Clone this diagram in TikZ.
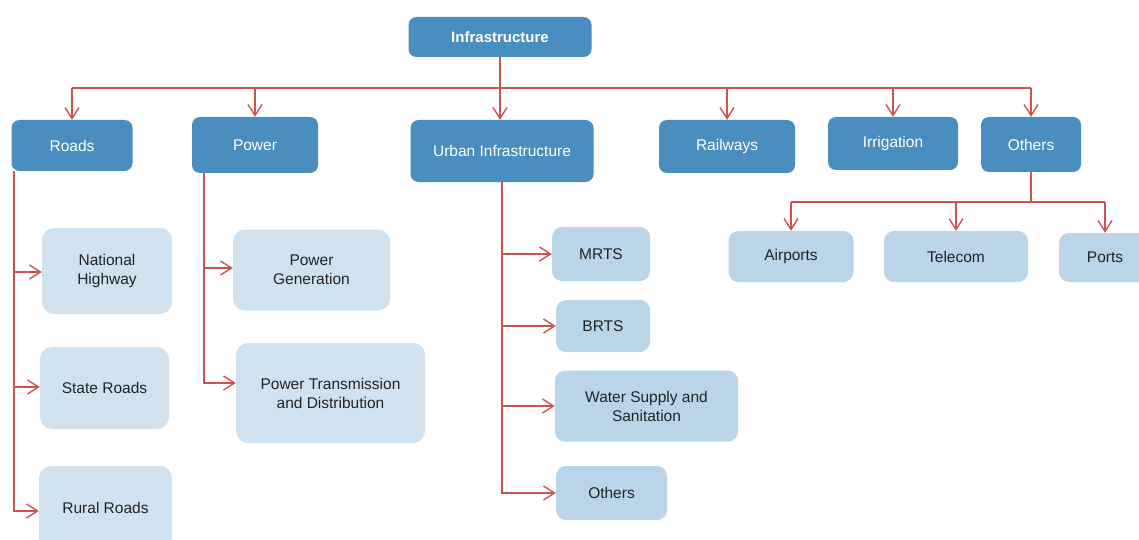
\documentclass[tikz,border=0pt]{standalone}
\usepackage{fontspec}
\setmainfont{Liberation Sans}
\usetikzlibrary{arrows.meta}
\definecolor{darkbox}{RGB}{74,141,191}
\definecolor{lightbox}{RGB}{208,226,240}
\definecolor{midbox}{RGB}{186,213,232}
\definecolor{linered}{RGB}{204,84,80}
\definecolor{txt}{RGB}{35,35,35}
\tikzset{
  base/.style={rectangle, inner sep=0pt, align=center, font=\fontsize{15.5}{19}\selectfont},
  topbox/.style={base, fill=darkbox, rounded corners=8pt, text=white},
  lightchild/.style={base, fill=lightbox, rounded corners=12pt, text=txt},
  midchild/.style={base, fill=midbox, rounded corners=10pt, text=txt},
  link/.style={draw=linered, line width=1.8pt},
  arr/.style={link, -{Straight Barb[length=11pt,width=14pt,line width=1.4pt]}}
}
\begin{document}
\begin{tikzpicture}[x=1pt,y=-1pt]
\useasboundingbox (0,0) rectangle (1139,540);

% top level
\node[topbox, minimum width=183pt, minimum height=40pt, font=\fontsize{15}{18}\selectfont\bfseries] (infra) at (500,37) {Infrastructure};

\node[topbox, minimum width=121pt, minimum height=51pt] (roads) at (72,145.5) {Roads};
\node[topbox, minimum width=126pt, minimum height=56pt] (power) at (255,145) {Power};
\node[topbox, minimum width=183pt, minimum height=62pt] (urban) at (502,151) {Urban Infrastructure};
\node[topbox, minimum width=136pt, minimum height=53pt] (rail) at (727,146.5) {Railways};
\node[topbox, minimum width=130pt, minimum height=53pt] (irrig) at (893,143.5) {Irrigation};
\node[topbox, minimum width=100pt, minimum height=55pt] (others) at (1031,144.5) {Others};

% roads children
\node[lightchild, minimum width=130pt, minimum height=86pt] (nh) at (107,271) {National\\Highway};
\node[lightchild, minimum width=129pt, minimum height=82pt] (sr) at (104.5,388) {State Roads};
\node[lightchild, minimum width=133pt, minimum height=84pt] (rr) at (105.5,508) {Rural Roads};

% power children
\node[lightchild, minimum width=157pt, minimum height=81pt] (pg) at (311.5,270) {Power\\Generation};
\node[lightchild, minimum width=189pt, minimum height=100pt] (ptd) at (330.5,393) {Power Transmission\\and Distribution};

% urban children
\node[midchild, minimum width=98pt, minimum height=54pt] (mrts) at (601,254) {MRTS};
\node[midchild, minimum width=94pt, minimum height=52pt] (brts) at (603,326) {BRTS};
\node[midchild, minimum width=183pt, minimum height=71pt] (ws) at (646.5,406) {Water Supply and\\Sanitation};
\node[midchild, minimum width=111pt, minimum height=54pt] (uo) at (611.5,493) {Others};

% others children
\node[midchild, minimum width=125pt, minimum height=51pt] (air) at (791,256.5) {Airports};
\node[midchild, minimum width=144pt, minimum height=51pt] (tel) at (956,256.5) {Telecom};
\node[midchild, minimum width=92pt, minimum height=49pt] (ports) at (1105,257.5) {Ports};

% top connectors
\coordinate (bus) at (0,88);
\draw[link] (infra.south) -- (infra.south |- bus);
\draw[link] (roads.north |- bus) -- (others.north |- bus);
\draw[arr] (roads.north |- bus) -- (roads.north);
\draw[arr] (power.north |- bus) -- (power.north);
\draw[arr] (infra.south |- bus) -- (infra.south |- urban.north);
\draw[arr] (rail.north |- bus) -- (rail.north);
\draw[arr] (irrig.north |- bus) -- (irrig.north);
\draw[arr] (others.north |- bus) -- (others.north);

% roads spine
\coordinate (rs) at ([xshift=3pt]roads.south west);
\draw[arr] (rs) |- ([yshift=-1pt]nh.west);
\draw[arr] (rs) |- ([yshift=1pt]sr.west);
\draw[arr] (rs) |- ([yshift=-3pt]rr.west);

% power spine
\coordinate (ps) at ([xshift=12pt]power.south west);
\draw[arr] (ps) |- ([yshift=2pt]pg.west);
\draw[arr] (ps) |- ([yshift=10pt]ptd.west);

% urban spine
\coordinate (us) at (urban.south);
\draw[arr] (us) |- (mrts.west);
\draw[arr] (us) |- (brts.west);
\draw[arr] (us) |- (ws.west);
\draw[arr] (us) |- (uo.west);

% others children connectors
\coordinate (obus) at (0,202);
\draw[link] (others.south) -- (others.south |- obus);
\draw[link] (air.north |- obus) -- (ports.north |- obus);
\draw[arr] (air.north |- obus) -- (air.north);
\draw[arr] (tel.north |- obus) -- (tel.north);
\draw[arr] (ports.north |- obus) -- (ports.north);
\end{tikzpicture}
\end{document}
